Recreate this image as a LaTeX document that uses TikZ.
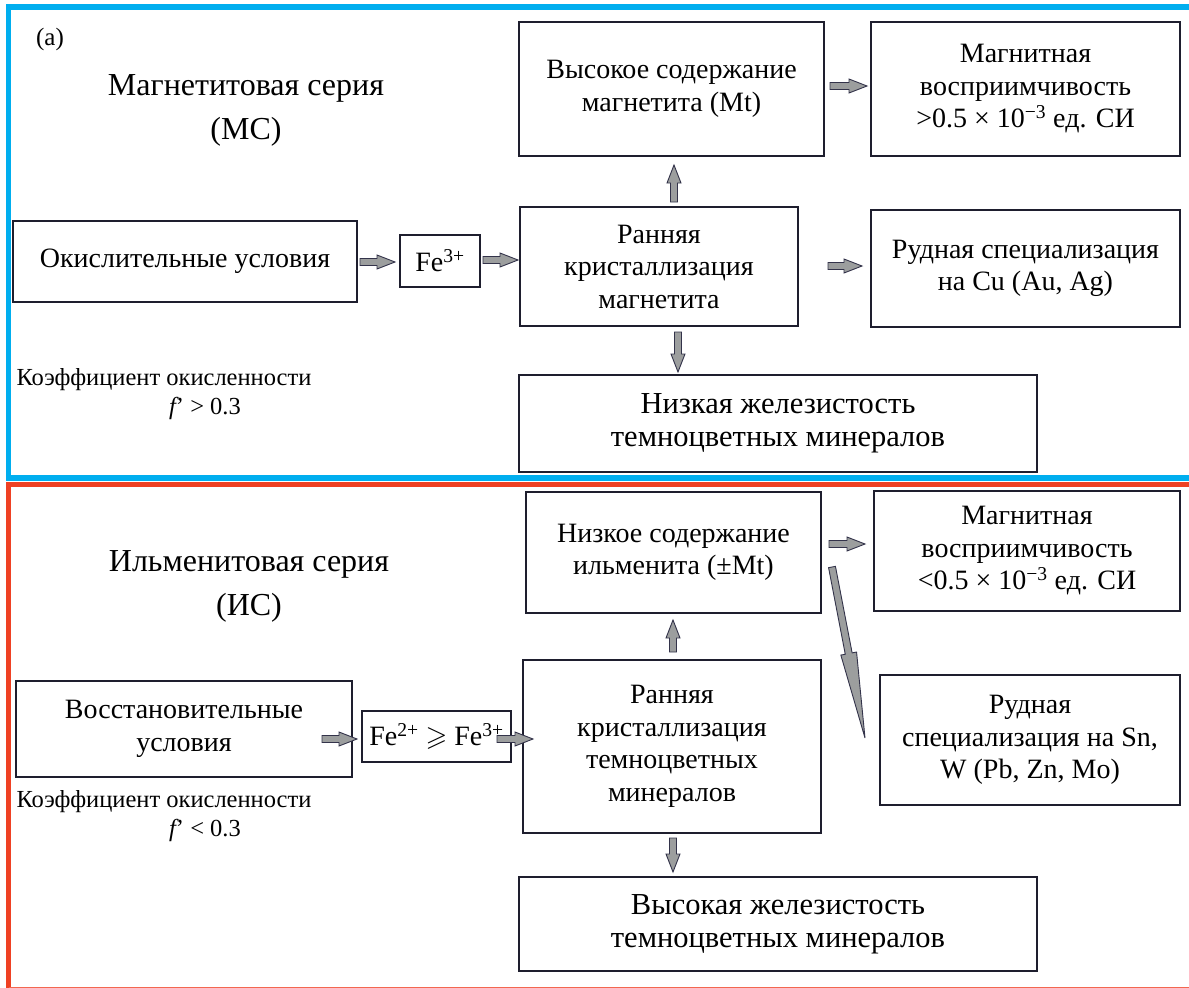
\documentclass[tikz,border=0pt]{standalone}
\usepackage{amssymb}
\usepackage{fontspec}
\setmainfont{Liberation Serif}
\usetikzlibrary{calc}
\definecolor{mcblue}{HTML}{00AEEF}
\definecolor{iscred}{HTML}{EF4123}
\definecolor{boxline}{HTML}{1E1E2E}
\definecolor{arrfill}{HTML}{9C9E9E}
\definecolor{arrline}{HTML}{33334A}
\newcommand{\bxfont}{\fontsize{28}{32.5}\selectfont}
\newcommand{\ttlfont}{\fontsize{32}{44}\selectfont}
\newcommand{\lowfont}{\fontsize{30.5}{33}\selectfont}
\newcommand{\koeffont}{\fontsize{24.5}{28}\selectfont}
\newcommand{\blockarr}[4]{%
 \filldraw[arrsty] let \p1=(#1), \p2=(#2), \n1={atan2(\y2-\y1,\x2-\x1)}, \n2={veclen(\x2-\x1,\y2-\y1)} in
  [shift={(\p1)},rotate=\n1]
  (0pt,-3.5pt) -- ({\n2-#3pt},-3.5pt) -- ({\n2-#3pt},-#4pt) -- ({\n2+0pt},0pt) -- ({\n2-#3pt},#4pt) -- ({\n2-#3pt},3.5pt) -- (0pt,3.5pt) -- cycle;}
\begin{document}
\begin{tikzpicture}[x=1pt,y=-1pt,
  box/.style={draw=boxline, line width=1.6pt, align=center, inner sep=0pt, font=\bxfont},
  lowbox/.style={box, font=\lowfont},
  freetext/.style={inner sep=0pt, align=center, font=\koeffont},
  titletext/.style={inner sep=0pt, align=center, font=\ttlfont},
  arrsty/.style={fill=arrfill, draw=arrline, line width=0.9pt, line join=miter}]
\useasboundingbox (0,0) rectangle (1189,988);
\clip (0,0) rectangle (1189,988);
% frames
\draw[mcblue, line width=5.5pt] (1200,7) -- (8.5,7) -- (8.5,478) -- (1200,478);
\draw[iscred, line width=5.5pt] (1200,484.5) -- (8.5,484.5) -- (8.5,988);
\draw[iscred!80, line width=1.2pt] (8.5,987.2) -- (1200,987.2);

% ---------- top: magnetite series ----------
\node[freetext, font=\fontsize{25}{30}\selectfont] (alabel) at (50,39) {(a)};
\node[titletext] (mctitle) at (246,110) {Магнетитовая серия\\(МС)};
\node[box, minimum width=305, minimum height=134] (mhigh) at (671.5,89) {Высокое содержание\\магнетита (Mt)};
\node[box, minimum width=309, minimum height=134] (msusc) at (1025.5,89) {Магнитная\\восприимчивость\\>0.5 × 10\textsuperscript{−3} ед. СИ};
\node[box, minimum width=344, minimum height=81] (mox) at (185,261.5) {Окислительные условия};
\node[box, minimum width=80, minimum height=52] (mfe) at (440,261) {Fe\textsuperscript{3+}};
\node[box, minimum width=278, minimum height=119] (mcryst) at (659,266.5) {Ранняя\\кристаллизация\\магнетита};
\node[box, minimum width=309, minimum height=117] (mcu) at (1025.5,268.5) {Рудная специализация\\на Cu (Au, Ag)};
\node[lowbox, minimum width=518, minimum height=97] (mlow) at (778,423.5) {Низкая железистость\\темноцветных минералов};
\node[freetext] (mkoef) at (164,380) {Коэффициент окисленности};
\node[freetext] (mkoefv) at (205,408) {{\itshape f}' > 0.3};

\coordinate (a1s) at (360,262); \coordinate (a1e) at (395,262);
\coordinate (a2s) at (483,260); \coordinate (a2e) at (518,260);
\coordinate (a3s) at (674,202); \coordinate (a3e) at (674,165);
\coordinate (a4s) at (830,86);  \coordinate (a4e) at (867,86);
\coordinate (a5s) at (828,266); \coordinate (a5e) at (862,266);
\coordinate (a6s) at (678,332); \coordinate (a6e) at (678,372);
\blockarr{a1s}{a1e}{18}{7}
\blockarr{a2s}{a2e}{18}{7}
\blockarr{a3s}{a3e}{18}{7}
\blockarr{a4s}{a4e}{18}{7}
\blockarr{a5s}{a5e}{18}{7}
\blockarr{a6s}{a6e}{18}{7}

% ---------- bottom: ilmenite series ----------
\node[titletext] (iltitle) at (249,586) {Ильменитовая серия\\(ИС)};
\node[box, minimum width=295, minimum height=121] (ilow) at (673.5,552.5) {Низкое содержание\\ильменита (±Mt)};
\node[box, minimum width=306, minimum height=120] (isusc) at (1027,551) {Магнитная\\восприимчивость\\<0.5 × 10\textsuperscript{−3} ед. СИ};
\node[box, minimum width=300, minimum height=130] (isn) at (1030,740) {Рудная\\специализация на Sn,\\W (Pb, Zn, Mo)};
\node[box, minimum width=298, minimum height=173] (icryst) at (672,746.5) {Ранняя\\кристаллизация\\темноцветных\\минералов};
\node[box, minimum width=336, minimum height=96] (ired) at (184,729) {Восстановительные\\условия};
\node[box, minimum width=149, minimum height=51] (ife) at (436.5,736.5) {Fe\textsuperscript{2+} $\geqslant$ Fe\textsuperscript{3+}};
\node[lowbox, minimum width=518, minimum height=94] (ihigh) at (778,924) {Высокая железистость\\темноцветных минералов};
\node[freetext] (ikoef) at (164,802) {Коэффициент окисленности};
\node[freetext] (ikoefv) at (205,830) {{\itshape f}' < 0.3};

\coordinate (b1s) at (322,739); \coordinate (b1e) at (357,739);
\coordinate (b2s) at (497,739); \coordinate (b2e) at (533,739);
\coordinate (b3s) at (673,652); \coordinate (b3e) at (673,620);
\coordinate (b4s) at (829,544); \coordinate (b4e) at (865,544);
\coordinate (b5s) at (832,567); \coordinate (b5e) at (865,738);
\coordinate (b6s) at (673,838); \coordinate (b6e) at (673,872);
\blockarr{b1s}{b1e}{18}{7}
\blockarr{b2s}{b2e}{18}{7}
\blockarr{b3s}{b3e}{18}{7}
\blockarr{b4s}{b4e}{18}{7}
\blockarr{b5s}{b5e}{86}{8}
\blockarr{b6s}{b6e}{18}{7}
\end{tikzpicture}
\end{document}
